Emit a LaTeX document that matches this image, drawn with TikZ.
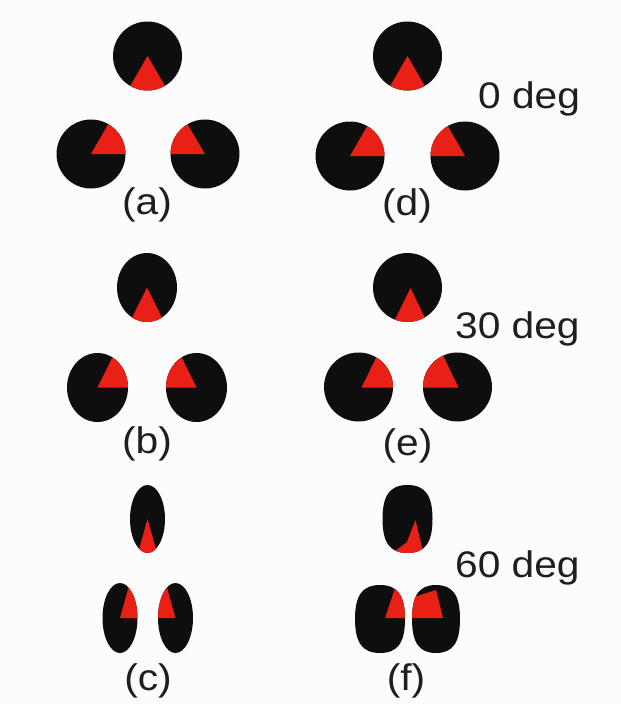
\documentclass[tikz,border=0pt]{standalone}
\usepackage{fontspec}
\usepackage{graphicx}
\setmainfont{Liberation Sans}
\definecolor{bgc}{RGB}{252,252,252}
\definecolor{discc}{RGB}{14,14,14}
\definecolor{redc}{RGB}{232,32,22}
\definecolor{txtc}{RGB}{30,30,30}
\tikzset{
  blob/.style n args={4}{insert path={({#1+#3},{#2}) .. controls ({#1+#3},{#2+0.7*#4}) and ({#1+0.7*#3},{#2+#4}) .. ({#1},{#2+#4}) .. controls ({#1-0.7*#3},{#2+#4}) and ({#1-#3},{#2+0.7*#4}) .. ({#1-#3},{#2}) .. controls ({#1-#3},{#2-0.7*#4}) and ({#1-0.7*#3},{#2-#4}) .. ({#1},{#2-#4}) .. controls ({#1+0.7*#3},{#2-#4}) and ({#1+#3},{#2-0.7*#4}) .. ({#1+#3},{#2}) -- cycle}},
  disc/.style={fill=discc},
  wedge/.style={fill=redc},
  lbl/.style={inner sep=0pt, text=txtc, font=\fontsize{37}{40}\selectfont},
  deglbl/.style={inner sep=0pt, anchor=base west, text=txtc, font=\fontsize{37}{40}\selectfont}
}
\newcommand{\wide}[1]{\scalebox{1.1}[1]{#1}}
\begin{document}
\begin{tikzpicture}[x=1pt,y=-1pt]
\fill[bgc] (0,0) rectangle (621,704);
\useasboundingbox (0,0) rectangle (621,704);

% ---------- (a) 0 deg ----------
\fill[disc] (147.5,56) circle[radius=34.5pt];
\fill[disc] (91,154) circle[radius=34.5pt];
\fill[disc] (205,154) circle[radius=34.5pt];
\begin{scope}
  \clip (147.5,56) circle[radius=34.5pt] (91,154) circle[radius=34.5pt] (205,154) circle[radius=34.5pt];
  \fill[wedge] (147.5,56) -- (91,154) -- (205,154) -- cycle;
\end{scope}

% ---------- (d) 0 deg ----------
\fill[disc] (407.5,56) circle[radius=34.5pt];
\fill[disc] (350,156) circle[radius=34.5pt];
\fill[disc] (465,156) circle[radius=34.5pt];
\begin{scope}
  \clip (407.5,56) circle[radius=34.5pt] (350,156) circle[radius=34.5pt] (465,156) circle[radius=34.5pt];
  \fill[wedge] (407.5,56) -- (350,156) -- (465,156) -- cycle;
\end{scope}

% ---------- (b) 30 deg ----------
\fill[disc] (147,287.5) ellipse[x radius=30pt, y radius=34.5pt];
\fill[disc] (97.5,387.5) ellipse[x radius=30.5pt, y radius=34.5pt];
\fill[disc] (196.5,387.5) ellipse[x radius=30.5pt, y radius=34.5pt];
\begin{scope}
  \clip (147,287.5) ellipse[x radius=30pt, y radius=34.5pt] (97.5,387.5) ellipse[x radius=30.5pt, y radius=34.5pt] (196.5,387.5) ellipse[x radius=30.5pt, y radius=34.5pt];
  \fill[wedge] (147,287.5) -- (97.5,387.5) -- (196.5,387.5) -- cycle;
\end{scope}

% ---------- (e) 30 deg ----------
\fill[disc] (407.5,287.5) circle[radius=34.5pt];
\fill[disc] (358.5,387) circle[radius=34.5pt];
\fill[disc] (457.5,387) circle[radius=34.5pt];
\begin{scope}
  \clip (407.5,287.5) circle[radius=34.5pt] (358.5,387) circle[radius=34.5pt] (457.5,387) circle[radius=34.5pt];
  \fill[wedge] (410.5,288) -- (361.5,387.5) -- (458.5,387.5) -- cycle;
\end{scope}

% ---------- (c) 60 deg ----------
\fill[disc] (147.5,519) ellipse[x radius=17.5pt, y radius=34pt];
\fill[disc] (120,618) ellipse[x radius=17.5pt, y radius=35pt];
\fill[disc] (175.5,618) ellipse[x radius=17.5pt, y radius=35pt];
\begin{scope}
  \clip (147.5,519) ellipse[x radius=17.5pt, y radius=34pt] (120,618) ellipse[x radius=17.5pt, y radius=35pt] (175.5,618) ellipse[x radius=17.5pt, y radius=35pt];
  \fill[wedge] (147.5,519) -- (120,618) -- (175.5,618) -- cycle;
\end{scope}

% ---------- (f) 60 deg ----------
\fill[disc, blob={407.5}{519}{25}{34}];
\fill[disc, blob={380}{619}{25}{34}];
\fill[disc, blob={436}{619}{24}{34}];
\begin{scope}
  \clip[blob={407.5}{519}{25}{34}];
  \fill[wedge] (415.5,520) -- (424,556) -- (392,556) -- (395,551) -- (407,542) -- cycle;
\end{scope}
\begin{scope}
  \clip[blob={380}{619}{25}{34}];
  \fill[wedge] (395,588) -- (385,618) -- (412,618) -- (412,578) -- cycle;
\end{scope}
\begin{scope}
  \clip[blob={436}{619}{24}{34}];
  \fill[wedge] (417,596) -- (436,590) -- (443,618) -- (405,618) -- (405,598) -- cycle;
\end{scope}

% ---------- labels ----------
\node[lbl] (la) at (147,205) {\wide{(a)}};
\node[lbl] (ld) at (407,206) {\wide{(d)}};
\node[lbl] (lb) at (147,444) {\wide{(b)}};
\node[lbl] (le) at (407.5,446) {\wide{(e)}};
\node[lbl] (lc) at (148,681) {\wide{(c)}};
\node[lbl] (lf) at (406,681) {\wide{(f)}};
\node[deglbl] (d0) at (478,108) {\wide{0 deg}};
\node[deglbl] (d30) at (455,338) {\wide{30 deg}};
\node[deglbl] (d60) at (455,577) {\wide{60 deg}};
\end{tikzpicture}
\end{document}
